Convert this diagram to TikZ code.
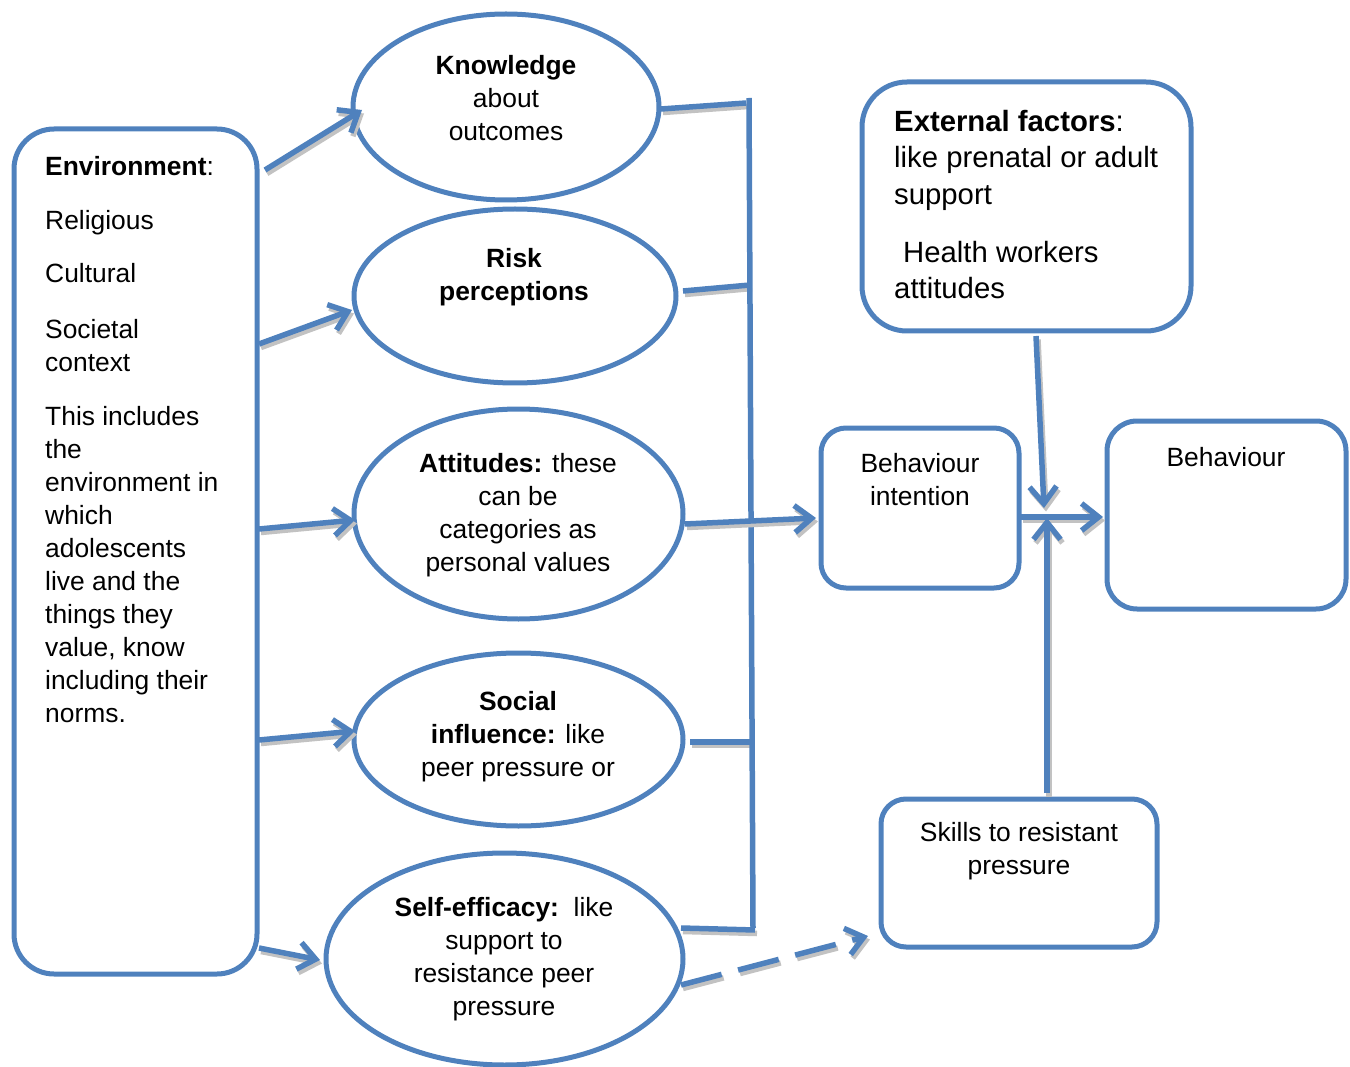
\documentclass[tikz,border=0pt]{standalone}
\usepackage{fontspec}
\setmainfont{Liberation Sans}
\usetikzlibrary{shapes.geometric,arrows.meta}
\definecolor{ob}{RGB}{79,129,189}
\begin{document}
\begin{tikzpicture}[x=1pt,y=-1pt,
  txt/.style={font=\fontsize{26.4}{33}\selectfont, inner sep=0pt, align=center},
  txtb/.style={font=\fontsize{29.3}{36.5}\selectfont, inner sep=0pt, align=left},
  ell/.style={ellipse, draw=ob, line width=5pt, inner sep=0pt},
  rbox/.style={draw=ob, line width=5pt, rectangle, inner sep=0pt},
  conn/.style={draw=ob, line width=5.5pt, preaction={draw=black!24, line width=5.5pt, transform canvas={shift={(2pt,-3.5pt)}}}},
  dconn/.style={draw=ob, line width=5.5pt, dash pattern=on 42pt off 17pt, preaction={draw=black!24, line width=5.5pt, dash pattern=on 42pt off 17pt, transform canvas={shift={(2pt,-3.5pt)}}}},
  plainline/.style={draw=ob, line width=5.5pt},
  tip/.style={-{Straight Barb[length=17pt,width=27pt]}},
  arr/.style={conn, tip},
]
\useasboundingbox (0,0) rectangle (1350,1067);

% boxes
\node[rbox, rounded corners=40pt, minimum width=243pt, minimum height=845pt] (env) at (135.5,551.5) {};
\node[rbox, rounded corners=45pt, minimum width=329pt, minimum height=249pt] (ext) at (1026.5,206.5) {};
\node[rbox, rounded corners=25pt, minimum width=198pt, minimum height=160pt] (bi) at (920,508) {};
\node[rbox, rounded corners=30pt, minimum width=239pt, minimum height=188pt] (beh) at (1226.5,515) {};
\node[rbox, rounded corners=25pt, minimum width=276pt, minimum height=148pt] (skill) at (1019,873) {};

% ellipses
\node[ell, minimum width=306pt, minimum height=186pt] (know) at (506,107) {};
\node[ell, minimum width=322pt, minimum height=174pt] (risk) at (515,296) {};
\node[ell, minimum width=329pt, minimum height=210pt] (att) at (518.5,514) {};
\node[ell, minimum width=329pt, minimum height=173pt] (soc) at (518.5,739.5) {};
\node[ell, minimum width=357pt, minimum height=212pt] (self) at (504.5,959) {};

% texts
\node[txt, align=left, anchor=north west] (envtxt) at (45,156) {\textbf{Environment}:\\[21.5pt] Religious\\[20pt] Cultural\\[22.5pt] Societal\\ context\\[21pt] This includes\\ the\\ environment in\\ which\\ adolescents\\ live and the\\ things they\\ value, know\\ including their\\ norms.};
\node[txtb, anchor=north west] (exttxt) at (894,110) {\textbf{External factors}:\\ like prenatal or adult\\ support\\[21.5pt] \hspace*{9pt}Health workers\\ attitudes};
\node[txt] (knowtxt) at (506,98) {\textbf{Knowledge}\\ about\\ outcomes};
\node[txt] (risktxt) at (514,277) {\textbf{Risk}\\ \textbf{perceptions}};
\node[txt] (atttxt) at (518,515) {\textbf{Attitudes:} these\\ can be\\ categories as\\ personal values};
\node[txt] (soctxt) at (518,737) {\textbf{Social}\\ \textbf{influence:} like\\ peer pressure or};
\node[txt] (selftxt) at (504,959) {\textbf{Self-efficacy:}\ \ like\\ support to\\ resistance peer\\ pressure};
\node[txt] (bitxt) at (920,480) {Behaviour\\ intention};
\node[txt] (behtxt) at (1226,457) {Behaviour};
\node[txt] (skilltxt) at (1019,851) {Skills to resistant\\ pressure};

% connector end points
\coordinate (e1) at (265,170); \coordinate (k1) at (362,110);
\coordinate (e2) at (259,344); \coordinate (r1) at (352,310);
\coordinate (e3) at (259,529); \coordinate (a1) at (355,520);
\coordinate (e4) at (259,740); \coordinate (s1) at (355,731);
\coordinate (e5) at (259,948); \coordinate (f1) at (320,960);
\coordinate (vtop) at (749,98); \coordinate (vbot) at (753,928);
\coordinate (k2) at (661,109); \coordinate (k3) at (746,103);
\coordinate (r2) at (683,291); \coordinate (r3) at (750,285);
\coordinate (s2) at (690,742); \coordinate (s3) at (750,742);
\coordinate (f2) at (681,928); \coordinate (f3) at (755,930);
\coordinate (a2) at (685,524); \coordinate (bi1) at (816,518);
\coordinate (bi2) at (1021,517); \coordinate (beh1) at (1103,517);
\coordinate (x1) at (1036,336); \coordinate (x2) at (1044,508);
\coordinate (sk1) at (1047,793); \coordinate (sk2) at (1047,518);
\coordinate (d1) at (681,985); \coordinate (d2) at (868,936);

% connectors
\draw[arr] (e1) -- (k1);
\draw[arr] (e2) -- (r1);
\draw[arr] (e3) -- (a1);
\draw[arr] (e4) -- (s1);
\draw[arr] (e5) -- (f1);
\draw[conn] (k2) -- (k3);
\draw[conn] (r2) -- (r3);
\draw[conn] (s2) -- (s3);
\draw[conn] (f2) -- (f3);
\draw[plainline] (vtop) -- (vbot);
\draw[arr] (a2) -- (bi1);
\draw[arr] (bi2) -- (beh1);
\draw[arr] (x1) -- (x2);
\draw[arr] (sk1) -- (sk2);
\draw[dconn, tip] (d1) -- (d2);
\end{tikzpicture}
\end{document}
